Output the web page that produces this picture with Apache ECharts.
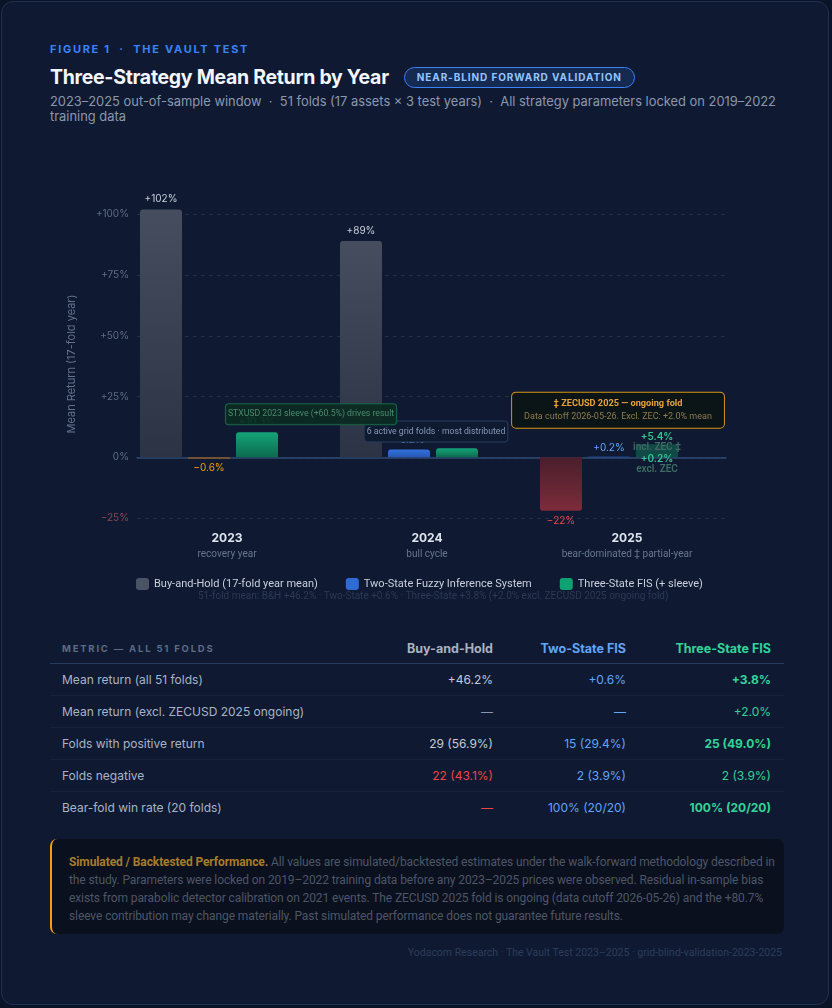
<!DOCTYPE html>
<html>
<head>
<meta charset="utf-8">
<script src="https://cdn.jsdelivr.net/npm/echarts@6/dist/echarts.min.js"></script>
<style>
  html, body { margin: 0; padding: 0; background: #0b1326; }
  body { width: 832px; height: 1008px; position: relative; font-family: Inter, "Liberation Sans", sans-serif; }
  .card {
    position: absolute; left: 1px; top: 1px; width: 828px; height: 1004px; box-sizing: border-box;
    background: #0f1a32; border: 1px solid #1f3152; border-radius: 12px; overflow: hidden;
  }
  .abs { position: absolute; }
  .eyebrow { left: 48px; top: 40px; font-size: 11px; line-height: 14px; font-weight: 700; letter-spacing: 1.7px; color: #3b82f6; }
  .title-row { left: 48px; top: 63px; height: 24px; display: flex; align-items: center; }
  .title { font-size: 19.5px; font-weight: 700; color: #f3f6fb; letter-spacing: -0.3px; }
  .badge {
    margin-left: 15px; height: 19px; line-height: 19px; padding: 0 12px; border: 1px solid #3b82f6; border-radius: 11px;
    background: rgba(59,130,246,0.16); color: #93c5fd; font-size: 10px; font-weight: 700; letter-spacing: 0.9px;
  }
  .subtitle { left: 48px; top: 92px; width: 736px; font-size: 12.9px; line-height: 15px; color: #8b97ae; }
  #chart { position: absolute; left: -1px; top: 169px; width: 832px; height: 440px; }
  table { position: absolute; left: 48px; top: 631px; width: 734px; border-collapse: collapse; table-layout: fixed; font-size: 12px; }
  th { height: 30px; font-weight: 700; text-align: right; padding: 0 13px 0 0; border-bottom: 1px solid #273b5e; font-size: 12.5px; }
  th.metric { text-align: left; padding-left: 12px; font-size: 9.5px; letter-spacing: 1.8px; color: #5b6b88; }
  td { height: 31px; text-align: right; padding: 0 13px 0 0; border-bottom: 1px solid #162239; color: #c3cad6; }
  td.m { text-align: left; padding-left: 12px; color: #a9b3c6; }
  tr:last-child td { border-bottom: none; }
  .bh { color: #aab2c0; } .ts { color: #60a5fa; } .th3 { color: #34d399; }
  .b { font-weight: 700; } .red { color: #ef4444; } .dim { color: #8a96ab; }
  .disclaimer {
    left: 48px; top: 837px; width: 734px; height: 95px; box-sizing: border-box; background: #0a101d;
    border-left: 2px solid #f59e0b; border-radius: 7px; padding: 14px 8px 0 17px;
    font-family: Roboto, sans-serif; font-size: 12px; line-height: 18px; letter-spacing: -0.1px; color: #4d5668;
  }
  .disclaimer b { color: #a77c2c; }
  .footer { right: 46px; top: 944px; font-family: Roboto, sans-serif; font-size: 10.5px; line-height: 14px; color: #2d3c5a; }
</style>
</head>
<body>
<div class="card">
  <div class="abs eyebrow">FIGURE 1 &nbsp;·&nbsp; THE VAULT TEST</div>
  <div class="abs title-row"><span class="title">Three-Strategy Mean Return by Year</span><span class="badge">NEAR-BLIND FORWARD VALIDATION</span></div>
  <div class="abs subtitle">2023–2025 out-of-sample window &nbsp;·&nbsp; 51 folds (17 assets × 3 test years) &nbsp;·&nbsp; All strategy parameters locked on 2019–2022 training data</div>
  <div id="chart"></div>
  <table>
    <colgroup><col style="width:323px"><col style="width:133px"><col style="width:133px"><col style="width:145px"></colgroup>
    <tr><th class="metric">METRIC — ALL 51 FOLDS</th><th class="bh">Buy-and-Hold</th><th class="ts">Two-State FIS</th><th class="th3">Three-State FIS</th></tr>
    <tr><td class="m">Mean return (all 51 folds)</td><td>+46.2%</td><td class="ts">+0.6%</td><td class="th3 b">+3.8%</td></tr>
    <tr><td class="m">Mean return (excl. ZECUSD 2025 ongoing)</td><td class="dim">—</td><td class="ts">—</td><td class="th3">+2.0%</td></tr>
    <tr><td class="m">Folds with positive return</td><td>29 (56.9%)</td><td class="ts">15 (29.4%)</td><td class="th3 b">25 (49.0%)</td></tr>
    <tr><td class="m">Folds negative</td><td class="red">22 (43.1%)</td><td class="ts">2 (3.9%)</td><td class="th3">2 (3.9%)</td></tr>
    <tr><td class="m">Bear-fold win rate (20 folds)</td><td class="red">—</td><td class="ts">100% (20/20)</td><td class="th3 b">100% (20/20)</td></tr>
  </table>
  <div class="abs disclaimer"><b>Simulated / Backtested Performance.</b> All values are simulated/backtested estimates under the walk-forward methodology described in the study. Parameters were locked on 2019–2022 training data before any 2023–2025 prices were observed. Residual in-sample bias exists from parabolic detector calibration on 2021 events. The ZECUSD 2025 fold is ongoing (data cutoff 2026-05-26) and the +80.7% sleeve contribution may change materially. Past simulated performance does not guarantee future results.</div>
  <div class="abs footer">Yodacom Research · The Vault Test 2023–2025 · grid-blind-validation-2023-2025</div>
</div>

<script>
// chart data
const years = ['2023', '2024', '2025']
const yearNotes = ['recovery year', 'bull cycle', 'bear-dominated ‡ partial-year']
const seriesNames = ['Buy-and-Hold (17-fold year mean)', 'Two-State Fuzzy Inference System', 'Three-State FIS (+ sleeve)']
const buyHold = [102, 89, -22]
const twoState = [-0.6, 3.2, 0.2]
const threeState = [10.3, 3.7, 5.4]          // 2025 includes the ongoing ZECUSD fold
const threeStateExclZec = [null, null, 0.2]
const yMin = -25, yMax = 110, yStep = 25
const meanNote = '51-fold mean: B&H +46.2% · Two-State +0.6% · Three-State +3.8% (+2.0% excl. ZECUSD 2025 ongoing fold)'

const FONT = 'Inter, "Liberation Sans", sans-serif'
const NARROW = 'Roboto, sans-serif'

const pct = (v, d) => (v > 0 ? '+' : v < 0 ? '\u2212' : '') + Math.abs(v).toFixed(d) + '%'
const grad = (a, b) => new echarts.graphic.LinearGradient(0, 0, 0, 1, [
  { offset: 0, color: a }, { offset: 1, color: b }
])

const chart = echarts.init(document.getElementById('chart'))

const bhData = buyHold.map(v => v < 0
  ? { value: v, itemStyle: { color: grad('#4a1e2c', '#7d2c3a'), borderRadius: [0, 0, 3, 3] },
      label: { position: 'bottom', color: '#ef4444' } }
  : { value: v })

const tsData = twoState.map(v => v < 0
  ? { value: v, itemStyle: { color: '#8c5a24', borderRadius: 0 }, label: { position: 'bottom', color: '#f59e0b' } }
  : { value: v })

const thData = threeState.map((v, i) => threeStateExclZec[i] == null
  ? { value: v }
  : {
      value: v,
      itemStyle: { color: 'rgba(20,150,105,0.38)' },
      label: {
        position: 'insideTop', distance: 0, offset: [0, -13],
        formatter: '{a|' + pct(v, 1) + '}\n{b|incl. ZEC ‡}\n{a|' + pct(threeStateExclZec[i], 1) + '}\n{b|excl. ZEC}',
        rich: {
          a: { color: '#34c98e', fontSize: 10, fontWeight: 600, lineHeight: 11 },
          b: { color: '#3d6c63', fontSize: 10, lineHeight: 11, fontFamily: NARROW }
        }
      }
    })

const barBase = {
  type: 'bar',
  xAxisIndex: 0,
  yAxisIndex: 0,
  barWidth: 42,
  barGap: '14.3%',
  label: { show: true, position: 'top', distance: 5, fontSize: 10 }
}

const noteBox = (text, color, bg, border) => ({
  show: true, position: 'inside', formatter: text,
  color: color, fontSize: 8.7, fontFamily: NARROW, backgroundColor: bg,
  borderColor: border, borderWidth: 1, borderRadius: 3, padding: [6, 2, 5, 2]
})

const option = {
  textStyle: { fontFamily: FONT },
  animation: false,
  grid: [
    { left: 108, width: 600, top: 19, height: 328 },
    { left: 136, width: 589, top: 19, height: 328 }
  ],
  legend: {
    left: 130, top: 402, itemWidth: 13, itemHeight: 12, itemGap: 28, icon: 'roundRect',
    textStyle: { color: '#c9d0dc', fontSize: 11, fontFamily: NARROW },
    data: [
      { name: seriesNames[0], itemStyle: { color: '#4b5366' } },
      { name: seriesNames[1], itemStyle: { color: '#2f6bd6' } },
      { name: seriesNames[2], itemStyle: { color: '#10a172' } }
    ]
  },
  graphic: [{
    type: 'text', left: 197, top: 420,
    style: { text: meanNote, fill: '#2c3955', fontSize: 10, fontFamily: NARROW }
  }],
  xAxis: [
    {
      gridIndex: 0, type: 'category', data: years,
      axisLine: { show: false, onZero: false }, axisTick: { show: false },
      axisLabel: {
        interval: 0, margin: 12, padding: [0, 0, 0, 36],
        formatter: (v, i) => '{y|' + v + '}\n{s|' + yearNotes[i] + '}',
        rich: {
          y: { fontSize: 12, fontWeight: 700, color: '#dde3ee', lineHeight: 16 },
          s: { fontSize: 10, color: '#67758f', lineHeight: 16, fontFamily: NARROW }
        }
      }
    },
    {
      gridIndex: 1, type: 'category', data: years,
      axisLine: { show: true, onZero: true, lineStyle: { color: '#2d4a70', width: 1.5 } },
      axisTick: { show: false }, axisLabel: { show: false }
    }
  ],
  yAxis: [
    { gridIndex: 0, type: 'value', min: yMin, max: yMax, interval: yStep, show: false, splitLine: { show: false } },
    {
      gridIndex: 1, type: 'value', min: yMin, max: yMax, interval: yStep,
      name: 'Mean Return (17-fold year)', nameLocation: 'middle', nameGap: 60,
      nameTextStyle: { color: '#63718c', fontSize: 11, padding: [0, 20, 0, 0] },
      axisLine: { show: false }, axisTick: { show: false },
      axisLabel: {
        margin: 8, fontSize: 10, color: '#5d6b86', showMaxLabel: false,
        formatter: v => v < 0 ? '{neg|' + pct(v, 0) + '}' : pct(v, 0),
        rich: { neg: { color: '#8a4652', fontSize: 10 } }
      },
      splitLine: { show: true, showMaxLine: false, lineStyle: { color: '#212f4b', type: [4, 4] } }
    }
  ],
  series: [
    {
      ...barBase, name: seriesNames[0], data: bhData,
      itemStyle: { color: grad('#454d5f', '#2b3345'), borderRadius: [3, 3, 0, 0] },
      label: { ...barBase.label, color: '#c9d0dc', formatter: p => pct(p.value, 0) }
    },
    {
      ...barBase, name: seriesNames[1], data: tsData,
      itemStyle: { color: grad('#3270dc', '#2858b8'), borderRadius: [3, 3, 0, 0] },
      label: { ...barBase.label, distance: 4, color: '#60a5fa', formatter: p => pct(p.value, 1) },
      markPoint: {
        symbol: 'rect', symbolSize: 0,
        data: [{
          coord: ['2024', twoState[1]],
          label: { ...noteBox('6 active grid folds · most distributed', '#8797b4', '#0e1a30', '#2a3c5d'), offset: [27, -18] }
        }]
      }
    },
    {
      ...barBase, name: seriesNames[2], data: thData,
      itemStyle: { color: grad('#14a477', '#0c6a4e'), borderRadius: [3, 3, 0, 0] },
      label: { ...barBase.label, color: '#34d399', fontWeight: 600, formatter: p => pct(p.value, 1) },
      markPoint: {
        symbol: 'rect', symbolSize: 0,
        data: [
          {
            coord: ['2023', threeState[0]],
            label: { ...noteBox('STXUSD 2023 sleeve (+60.5%) drives result', '#4b8a6e', 'rgba(11,42,33,0.92)', '#19664a'), offset: [54, -18] }
          },
          {
            coord: ['2025', threeState[2]],
            label: {
              show: true, position: 'inside', offset: [-39, -34],
              formatter: '{t|‡ ZECUSD 2025 — ongoing fold}\n{d|Data cutoff 2026-05-26. Excl. ZEC: +2.0% mean}',
              backgroundColor: '#0b1518', borderColor: '#d99412', borderWidth: 1, borderRadius: 4,
              padding: [5, 12, 4, 12],
              rich: {
                t: { color: '#e8a23a', fontSize: 9.2, fontWeight: 700, lineHeight: 13, align: 'center', fontFamily: NARROW },
                d: { color: '#8d7a4e', fontSize: 9, lineHeight: 13, align: 'center', fontFamily: NARROW }
              }
            }
          }
        ]
      }
    }
  ]
}

chart.setOption(option)
window.addEventListener('resize', () => chart.resize())
</script>
</body>
</html>
